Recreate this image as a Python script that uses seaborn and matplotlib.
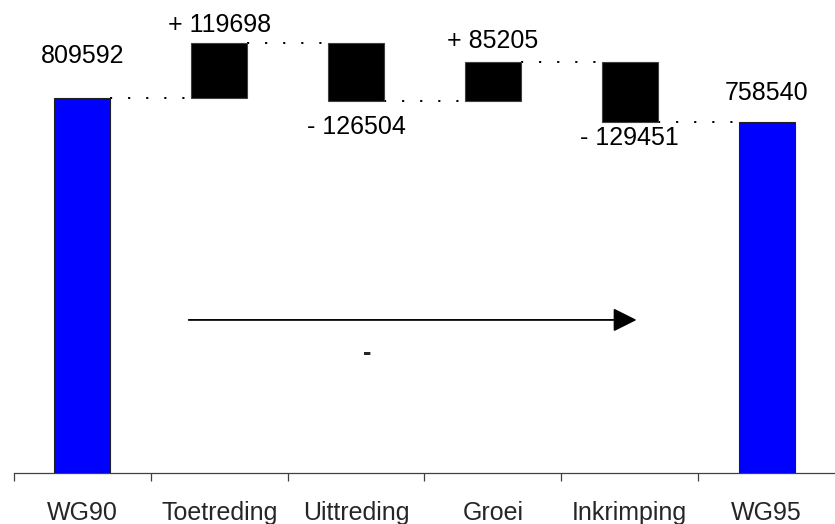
import numpy as np
import pandas as pd
import matplotlib
matplotlib.use("Agg")
import matplotlib.pyplot as plt
import seaborn as sns

# ---- data ----
categories = ["WG90", "Toetreding", "Uittreding", "Groei", "Inkrimping", "WG95"]
changes = [809592, 119698, -126504, 85205, -129451]
end_total = 758540
label_texts = ["809592", "+ 119698", "- 126504", "+ 85205", "- 129451", "758540"]

# ---- derived waterfall geometry ----
levels = np.concatenate([[0], np.cumsum(changes)])          # running level after each step
bottoms = [0]
heights = [changes[0]]
for i, c in enumerate(changes[1:], start=1):
    bottoms.append(min(levels[i], levels[i + 1]))
    heights.append(abs(c))
bottoms.append(0)
heights.append(end_total)
tops = [b + h for b, h in zip(bottoms, heights)]

df = pd.DataFrame({"cat": categories, "height": heights})

sns.set_style("white")
plt.rcParams["font.family"] = ["Liberation Sans", "DejaVu Sans"]

fig = plt.figure(figsize=(8.35, 5.24), dpi=100)
ax = fig.add_axes([14 / 835, 51 / 524, 1 - 14 / 835, 1 - 51 / 524 - 10 / 524])

bw = 0.41
sns.barplot(data=df, x="cat", y="height", bottom=bottoms, width=bw,
            color="black", edgecolor="#404040", linewidth=0.8,
            errorbar=None, ax=ax, zorder=3)
face = ["#0000FF", "black", "black", "black", "black", "#0000FF"]
edge = ["#202020", "#404040", "#404040", "#404040", "#404040", "#202020"]
for p, fc, ec in zip(ax.patches, face, edge):
    p.set_facecolor(fc)
    p.set_edgecolor(ec)

# dotted connectors
conn_levels = [levels[1], levels[2], levels[3], levels[4], levels[5]]
for i, lv in enumerate(conn_levels):
    ax.plot([i + bw / 2, i + 1 - bw / 2], [lv, lv], color="black", lw=1.4,
            linestyle=(0, (1.1, 8.2)), zorder=2, solid_capstyle="butt")

# value labels
# (anchor: 'top' edge of bar -> text above, 'bottom' edge -> text below), offset in points
label_pos = [("above", 25), ("above", 8), ("below", 10), ("above", 10), ("below", 3), ("above", 16)]
fs = 18
for i, (txt, (side, off)) in enumerate(zip(label_texts, label_pos)):
    if side == "above":
        ax.annotate(txt, (i, tops[i]), xytext=(0, off), textcoords="offset points",
                    ha="center", va="baseline", fontsize=fs, color="black")
    else:
        ax.annotate(txt, (i, bottoms[i]), xytext=(0, -off), textcoords="offset points",
                    ha="center", va="top", fontsize=fs, color="black")

# arrow annotation with "-" sign
ax.annotate("", xy=(4.05, 330600), xytext=(0.777, 330600),
            arrowprops=dict(arrowstyle="-|>,head_length=0.4,head_width=0.2",
                            mutation_scale=36, lw=1.3, color="black",
                            shrinkA=0, shrinkB=0))
ax.text(2.08, 259000, "-", ha="center", va="center", fontsize=fs, fontweight="bold")

ax.set_xlim(-0.5, 5.5)
ax.set_ylim(0, 1_000_000)
ax.set_xlabel("")
ax.set_ylabel("")
ax.set_yticks([])
for s in ["top", "right", "left"]:
    ax.spines[s].set_visible(False)
ax.spines["bottom"].set_color("#404040")
ax.spines["bottom"].set_linewidth(0.9)

ax.set_xticks(range(len(categories)))
ax.set_xticklabels(categories, fontsize=fs)
ax.set_xticks(np.arange(-0.5, 5.0, 1.0), minor=True)
ax.tick_params(axis="x", which="major", bottom=True, length=0, pad=20)
ax.tick_params(axis="x", which="minor", bottom=True, length=6, width=0.9,
               color="#404040", direction="out")

fig.savefig("out.png", dpi=100)
